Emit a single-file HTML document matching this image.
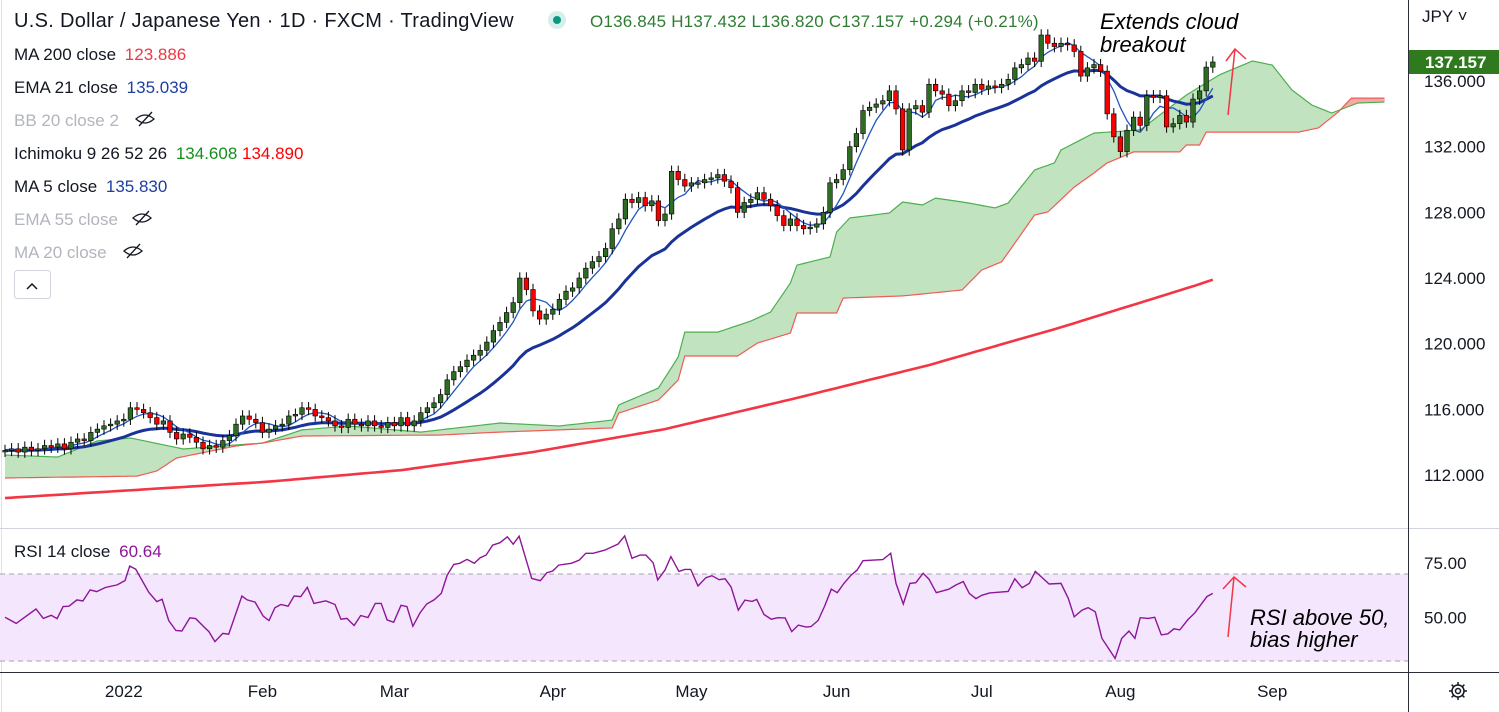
<!DOCTYPE html>
<html><head><meta charset="utf-8"><style>
html,body{margin:0;padding:0;background:#fff;}
svg{display:block;font-family:"Liberation Sans",sans-serif;}
</style></head><body>
<svg id="c" width="1499" height="712" viewBox="0 0 1499 712" xmlns="http://www.w3.org/2000/svg">
<rect x="0" y="0" width="1499" height="712" fill="#fff"/>
<line x1="1.5" y1="0" x2="1.5" y2="712" stroke="#e0e3eb"/>
<g id="rsiBg"></g>
<g id="main"></g>
<g id="rsi"></g>
<line x1="0" y1="528.5" x2="1499" y2="528.5" stroke="#d1d4dc"/>
<line x1="0" y1="672.5" x2="1499" y2="672.5" stroke="#2a2e39"/>
<line x1="1408.5" y1="0" x2="1408.5" y2="712" stroke="#2a2e39"/>
<g id="axes" font-size="17" fill="#131722"></g>
<g font-size="17">
<text x="14" y="27" font-size="20" fill="#131722" letter-spacing="0.3">U.S. Dollar / Japanese Yen · 1D · FXCM · TradingView</text>
<circle cx="557" cy="20" r="9" fill="#d6efeb"/>
<circle cx="557" cy="20" r="4" fill="#089981"/>
<text x="590" y="27" fill="#2e7d32" letter-spacing="0.2">O136.845  H137.432  L136.820  C137.157  +0.294 (+0.21%)</text>
<text x="14" y="60" fill="#131722">MA 200 close <tspan fill="#f23645" dx="4">123.886</tspan></text>
<text x="14" y="93" fill="#131722">EMA 21 close <tspan fill="#1e3fa0" dx="4">135.039</tspan></text>
<text x="14" y="126" fill="#b2b5be">BB 20 close 2</text>
<text x="14" y="159" fill="#131722">Ichimoku 9 26 52 26 <tspan fill="#12901a" dx="4">134.608</tspan> <tspan fill="#f00">134.890</tspan></text>
<text x="14" y="192" fill="#131722">MA 5 close <tspan fill="#1e3fa0" dx="4">135.830</tspan></text>
<text x="14" y="225" fill="#b2b5be">EMA 55 close</text>
<text x="14" y="258" fill="#b2b5be">MA 20 close</text>
<g fill="none" stroke="#131722" stroke-width="1.3">
<path d="M136 119 q9 -8 18 0 q-9 8 -18 0z M139 126 L152 112"/>
<path d="M133 218 q9 -8 18 0 q-9 8 -18 0z M136 225 L149 211"/>
<path d="M124 251 q9 -8 18 0 q-9 8 -18 0z M127 258 L140 244"/>
</g>
<rect x="14.5" y="270.5" width="36" height="28" rx="3" fill="#fff" stroke="#d1d4dc"/>
<path d="M27 289 L32 284 L37 289" fill="none" stroke="#131722" stroke-width="1.5"/>
<text x="14" y="557" fill="#131722">RSI 14 close <tspan fill="#8e1599" dx="4">60.64</tspan></text>
</g>
<g font-size="22" font-style="italic" fill="#000">
<text x="1100" y="29">Extends cloud</text>
<text x="1100" y="52">breakout</text>
<path d="M1228 115 L1235 49 M1226 61 L1235 49 L1246 59" fill="none" stroke="#f23645" stroke-width="1.5"/>
<text x="1250" y="625">RSI above 50,</text>
<text x="1250" y="647">bias higher</text>
<path d="M1228 637 L1234 577 M1223 589 L1234 577 L1246 587" fill="none" stroke="#f23645" stroke-width="1.5"/>
</g>
</svg>
<script>
const closes=[113.5,113.6,113.4,113.7,113.5,113.6,113.8,113.7,113.9,113.6,114.0,114.2,114.1,114.6,114.8,115.0,115.1,115.3,115.4,116.1,116.0,115.8,115.5,115.1,115.3,114.6,114.2,114.5,114.3,114.0,113.6,113.8,113.7,114.1,114.4,115.1,115.6,115.4,115.2,114.6,114.8,115.0,115.1,115.6,115.7,116.1,116.0,115.6,115.5,115.3,115.0,114.9,115.4,115.1,115.0,115.3,115.0,114.9,115.2,115.0,115.5,115.0,115.3,115.8,116.1,116.4,116.9,117.8,118.3,118.6,119.0,119.3,119.6,120.1,120.8,121.3,121.9,122.5,124.0,123.3,122.0,121.5,121.8,122.1,122.7,123.2,123.4,124.0,124.6,125.0,125.3,125.8,127.0,127.6,128.8,128.6,128.9,128.4,128.7,127.5,127.9,130.5,130.0,129.6,129.8,129.8,130.0,130.1,130.3,129.9,129.5,128.0,128.6,128.8,129.2,128.8,128.4,127.8,127.2,127.6,127.2,127.0,127.1,127.3,128.0,129.8,130.0,130.6,132.0,132.8,134.2,134.4,134.6,134.8,135.4,134.3,131.8,134.3,134.5,134.1,135.8,135.4,135.2,134.5,134.8,135.4,135.3,135.8,135.5,135.7,135.6,135.8,136.1,136.8,137.0,137.4,137.2,138.8,138.3,138.1,138.3,138.2,137.8,136.3,136.8,137.0,136.6,134.0,132.6,131.7,133.0,133.8,133.3,135.1,135.0,135.1,133.2,133.4,133.9,133.5,134.9,135.4,136.845,137.157];
const ma200Idx=[0,20,40,60,80,100,120,140,160,180,183];
const ma200Val=[110.6,111.1,111.6,112.3,113.4,114.8,116.7,118.7,121.0,123.5,123.9];
const spanAIdx=[0,8,14,19,27,31,39,45,52,63,75,84,92,93,99,102,103,108,113,116,119,120,125,126,128,134,136,139,141,146,150,152,156,159,160,165,172,179,184,189,192,195,198,201,205,209];
const spanAVal=[113.22,113.10,114.08,114.26,113.59,113.71,113.95,114.75,114.99,114.62,115.17,114.99,115.35,116.27,117.30,119.19,120.71,120.71,121.38,121.93,123.70,124.79,125.28,126.80,127.66,127.96,128.63,128.45,128.87,128.57,128.27,128.57,130.58,131.01,131.80,132.83,133.02,135.15,136.37,137.22,136.97,135.45,134.54,134.05,134.66,134.72];
const spanBIdx=[0,20,23,26,35,39,45,66,75,92,93,99,102,103,111,114,119,120,126,127,136,145,148,151,156,158,162,165,167,171,178,179,181,182,196,199,202,204,209];
const spanBVal=[111.82,111.94,112.25,113.04,113.77,113.95,114.38,114.44,114.62,114.87,115.78,116.57,117.79,119.25,119.25,120.04,120.65,121.87,121.87,122.78,122.91,123.27,124.49,124.98,127.84,128.02,129.54,130.40,131.01,131.68,131.68,132.10,132.10,132.89,132.89,133.14,134.11,134.96,134.96];
const rsiIdx=[0,1.7,4.7,5.8,7,7.9,8.8,9.7,10.9,11.8,12.9,13.9,15.2,17,18.2,18.9,19.8,21.8,23,23.8,24.8,25.9,26.8,28,28.9,30.2,30.9,31.8,33,33.9,35.9,36.7,37.9,39.1,40,40.9,41.8,42.9,43.8,44.8,45.8,46.8,48.6,50,50.9,51.8,52.9,53.9,55,56.1,57,57.9,58.9,60,60.9,61.8,62.9,63.9,65,66.1,67,68,68.9,70,71.1,72,72.9,73.9,75,76.1,77,77.9,79.8,81.1,82.1,83,83.9,85.8,87,88,89.1,90.9,92.9,93.9,95,96.2,97.1,98.2,98.9,100,100.9,102.1,103,103.9,105,106.2,107.1,108.2,109.1,110,111.1,112.1,113.2,113.9,115,116.1,117.1,118.2,119.2,120.2,121.4,122.1,123.2,124.2,125.2,126.1,127.1,128.2,129.1,130,133,134.2,135,136.1,137.1,138,139.1,140,141.1,143,144.1,145.2,146.1,147.1,148,149.2,152,153,154.1,155.2,156.1,158.2,160,161.1,162,163.2,164.1,165.2,166.2,168.2,169.2,170.3,171.2,172,173.2,174.2,175.2,176.2,177.1,178,179.2,180.3,182.1,183];
const rsiVal=[50.1,47.3,53.9,49.6,51,49.5,55,55.2,58.1,57.6,62.7,61.9,63.8,65,67,73.7,72.2,61.5,57.3,58.4,48.6,44,43.8,49.8,49.5,45.5,43.5,38.9,42.7,42.3,59.9,58.1,57.1,50.7,48.6,54.5,56,55.2,59.9,59.6,63.9,56.5,57.7,56,49.2,49.6,46.3,50.9,50,56.5,56.5,48.9,47.8,55.6,55,46,52.2,56.2,58.1,61.1,69.5,74.4,74.9,76.7,74.9,77.5,78.7,83.3,84.4,87.1,83.7,87.4,68,66.9,70.6,71.4,74.1,74.9,76.4,79.5,79.5,81,83.8,87.5,77.2,78.7,78.7,75.2,67.3,71.8,78,71.2,72.1,72.1,64.5,68.3,69.2,67.4,67.8,64.1,53.4,58,57.4,58.3,51.4,49.2,49.9,49.8,43.5,46.5,45.6,45.8,48.6,55.3,63,61.4,65.7,69.5,71.8,76.1,76.6,79.5,65.7,56.2,65.7,66,70.3,67.6,61.4,63,65,66.5,61.1,58.7,60.2,61.3,62,67.8,63.7,65.7,71.2,65.4,65.7,58.8,50.3,53.4,54.5,52.6,40.4,31.2,40.4,43.8,40.4,49.9,49.6,50.1,42,42.5,44.8,44.3,48.9,52.2,59.6,61.1];
const priceTicks=[136,132,128,124,120,116,112];
const rsiTicks=[75,50];
const monthLabels=["2022","Feb","Mar","Apr","May","Jun","Jul","Aug","Sep"];
const monthIdx=[18,39,59,83,104,126,148,169,192];

const NS="http://www.w3.org/2000/svg";
const xS=i=>5+i*6.6;
const yP=p=>81+(136-p)*16.42;
const yR=v=>574+(70-v)*2.175;
function mk(tag,attrs,parent){const e=document.createElementNS(NS,tag);for(const k in attrs)e.setAttribute(k,attrs[k]);parent.appendChild(e);return e;}
function interp(idx,val,n){const out=[];for(let i=0;i<=n;i++){let k=0;while(k<idx.length-2&&idx[k+1]<i)k++;const t=(i-idx[k])/(idx[k+1]-idx[k]);out.push(val[k]+(val[k+1]-val[k])*Math.max(0,Math.min(1,t)));}return out;}
const main=document.getElementById('main'),rsiG=document.getElementById('rsi'),axes=document.getElementById('axes'),rsiBg=document.getElementById('rsiBg');
const clip=mk('clipPath',{id:'mc'},main);mk('rect',{x:0,y:0,width:1408,height:528},clip);
const g=mk('g',{'clip-path':'url(#mc)'},main);

const nC=spanAIdx[spanAIdx.length-1];
const A=interp(spanAIdx,spanAVal,nC),B=interp(spanBIdx,spanBVal,nC);
const cloud=mk('g',{},g);


for(let i=0;i<nC;i++){
  const up=(A[i]+A[i+1])>=(B[i]+B[i+1]);
  const q=mk('polygon',{points:`${xS(i)},${yP(A[i])} ${xS(i+1)+0.3},${yP(A[i+1])} ${xS(i+1)+0.3},${yP(B[i+1])} ${xS(i)},${yP(B[i])}`,fill:up?'#c2e3c0':'#f7a9a7'},cloud);
  
  
}
const pathOf=(arr,fy)=>arr.map((v,i)=>(i?'L':'M')+xS(i).toFixed(1)+' '+fy(v).toFixed(1)).join(' ');
const la=mk('path',{d:pathOf(A,yP),fill:'none',stroke:'#4caf50','stroke-width':1.2},g);


const lb=mk('path',{d:pathOf(B,yP),fill:'none',stroke:'#f05b55','stroke-width':1.2},g);



const n=closes.length-1;
const m200=interp(ma200Idx,ma200Val,n);
const l200=mk('path',{d:pathOf(m200,yP),fill:'none',stroke:'#f23645','stroke-width':2.6},g);



const ema=[];let e0=closes[0];closes.forEach((c,i)=>{e0=i?e0+(c-e0)*2/22:c;ema.push(e0);});
const ma5=closes.map((c,i)=>{const s=closes.slice(Math.max(0,i-4),i+1);return s.reduce((a,b)=>a+b,0)/s.length;});
const le=mk('path',{d:pathOf(ema,yP),fill:'none',stroke:'#1a3398','stroke-width':3},g);


const l5=mk('path',{d:pathOf(ma5,yP),fill:'none',stroke:'#2156c0','stroke-width':1.3},g);



const cg=mk('g',{},g);


closes.forEach((c,i)=>{
  const o=i?closes[i-1]:c-0.05;const hi=Math.max(o,c)+0.35,lo=Math.min(o,c)-0.35;
  const x=xS(i);const up=c>=o;
  const w=mk('line',{x1:x,x2:x,y1:yP(hi),y2:yP(lo),stroke:'#000','stroke-width':1},cg);
  
  
  const top=yP(Math.max(o,c)),h=Math.max(1.5,yP(Math.min(o,c))-top);
  const r=mk('rect',{x:x-2.3,y:top,width:4.6,height:h,fill:up?'#2e6b23':'#f70000',stroke:'#000','stroke-width':0.6},cg);
  
  
});

const band=mk('rect',{x:0,y:yR(70),width:1408,height:yR(30)-yR(70),fill:'#f4e6fd'},rsiBg);


[70,30].forEach(v=>{const d=mk('line',{x1:0,x2:1408,y1:yR(v),y2:yR(v),stroke:'#a3a6af','stroke-dasharray':'5 4'},rsiBg);
  
  });
const rl=mk('path',{d:rsiVal.map((v,k)=>(k?'L':'M')+xS(rsiIdx[k]).toFixed(1)+' '+yR(v).toFixed(1)).join(' '),fill:'none',stroke:'#8e1599','stroke-width':1.4},rsiG);



priceTicks.forEach(p=>{const t=mk('text',{x:1424,y:yP(p)+6},axes);t.textContent=p.toFixed(3);
  
  });
rsiTicks.forEach(v=>{const t=mk('text',{x:1424,y:yR(v)+6},axes);t.textContent=v.toFixed(2);
  
  });
monthLabels.forEach((m,k)=>{const t=mk('text',{x:xS(monthIdx[k]),y:697,'text-anchor':'middle'},axes);t.textContent=m;
  
  });
const jpy=mk('text',{x:1422,y:22},axes);jpy.textContent='JPY ˅';


const last=closes[n];
const badge=mk('rect',{x:1409,y:yP(last)-12,width:90,height:24,fill:'#2f7a1f'},axes);


const bt=mk('text',{x:1425,y:yP(last)+6,fill:'#fff','font-weight':'bold'},axes);bt.textContent=last.toFixed(3);


const gear=mk('g',{transform:'translate(1458,691)',fill:'none',stroke:'#131722','stroke-width':1.5},axes);


mk('circle',{r:6},gear);mk('circle',{r:2.5},gear);
mk('path',{d:'M0 -9 V-6 M0 6 V9 M-9 0 H-6 M6 0 H9 M-6.4 -6.4 L-4.2 -4.2 M4.2 4.2 L6.4 6.4 M-6.4 6.4 L-4.2 4.2 M4.2 -4.2 L6.4 -6.4'},gear);
</script>
</body></html>
